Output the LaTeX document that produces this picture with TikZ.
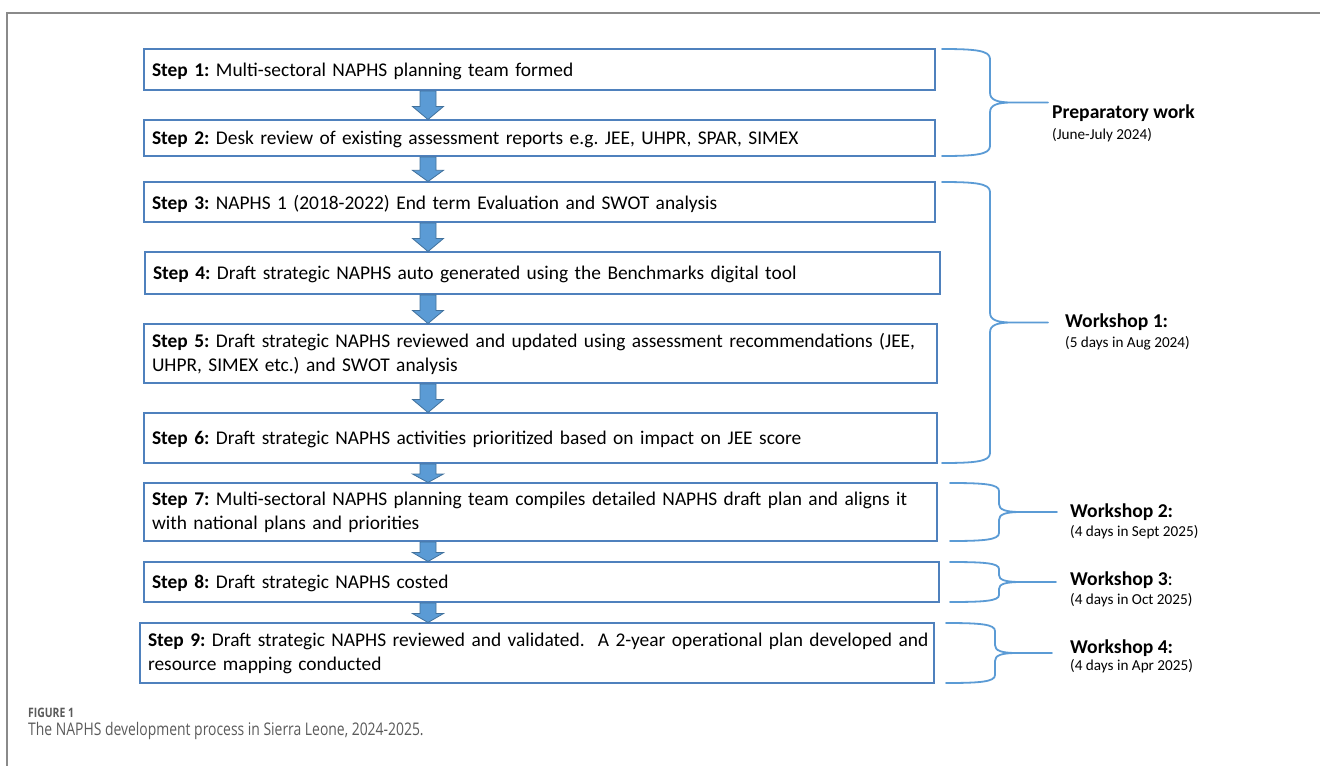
\documentclass[tikz,border=0pt]{standalone}
\usepackage{fontspec}
\setmainfont{Carlito}
\newfontfamily\capfont[FakeStretch=0.8]{Open Sans}
\usetikzlibrary{calc}
\frenchspacing

\definecolor{boxline}{HTML}{4F81BD}
\definecolor{arrowfill}{HTML}{5B9BD5}
\definecolor{arrowline}{HTML}{41719C}
\definecolor{bracecol}{HTML}{5B9BD5}
\definecolor{framegray}{HTML}{8A8A8A}
\definecolor{capgray}{HTML}{5A5A5A}

% block arrow pointing down between two step boxes, on the column x of (ax)
\newcommand\flowarrow[2]{%
  \path[flowarrow] let \p1=(#1.south -| ax), \p2=(#2.north -| ax),
      \n1={0.45*(\y1-\y2)} in
    (\x1-8pt,\y1-1pt) -- (\x1+8pt,\y1-1pt) -- (\x1+8pt,\y2+\n1)
    -- (\x1+15.5pt,\y2+\n1) -- (\x1,\y2+0.5pt) -- (\x1-15.5pt,\y2+\n1)
    -- (\x1-8pt,\y2+\n1) -- cycle;}

% right curly bracket grouping the boxes #1..#2
% #3 x of the ends, #4 x of the spine, #5 x of the tip, #6 bend size
\newcommand\groupbrace[6]{%
  \draw[bracestyle] let \p1=(#1.north east), \p2=(#2.south east),
      \n1={0.5*(\y1+\y2)} in
    (#3pt,\y1) .. controls ({#4pt-0.3*(#4pt-#3pt)},\y1) and (#4pt,\y1-0.15*#6pt) .. (#4pt,\y1-#6pt)
    -- (#4pt,\n1+#6pt) .. controls (#4pt,\n1+0.3*#6pt) and (#4pt+6pt,\n1) .. (#4pt+22pt,\n1)
    -- (#5pt,\n1)
    (#4pt+22pt,\n1) .. controls (#4pt+6pt,\n1) and (#4pt,\n1-0.3*#6pt) .. (#4pt,\n1-#6pt)
    -- (#4pt,\y2+#6pt) .. controls (#4pt,\y2+0.15*#6pt) and ({#4pt-0.3*(#4pt-#3pt)},\y2) .. (#3pt,\y2);}

\begin{document}
\begin{tikzpicture}[x=1pt,y=-1pt,
  stepbox/.style={draw=boxline, line width=1.2pt, outer sep=0pt, anchor=north west,
    align=left, inner xsep=8pt, inner ysep=0pt,
    font=\fontsize{19.4}{24}\selectfont},
  oneline/.style={stepbox, text depth=0pt},
  flowarrow/.style={fill=arrowfill, draw=arrowline, line width=0.8pt, line join=miter},
  bracestyle/.style={draw=bracecol, line width=1.8pt, line cap=round},
  grouplabel/.style={anchor=base west, inner sep=0pt, font=\bfseries\fontsize{19.6}{22}\selectfont},
  groupdate/.style={anchor=base west, inner sep=0pt, font=\fontsize{15.2}{17}\selectfont},
]
\useasboundingbox (0,0) rectangle (1320,766);

% page frame
\draw[framegray, line width=1.2pt] (1320,13) -- (7,13) -- (7,766);

\coordinate (ax) at (428,0);

% steps
\node[oneline, text width=775pt, minimum height=41pt] (s1) at (144,49)
  {\textbf{Step 1:} Multi-sectoral NAPHS planning team formed};
\node[oneline, text width=775pt, minimum height=36pt] (s2) at (144,120)
  {\textbf{Step 2:} Desk review of existing assessment reports e.g. JEE, UHPR, SPAR, SIMEX};
\node[oneline, text width=775pt, minimum height=40pt] (s3) at (144,182)
  {\textbf{Step 3:} NAPHS 1 (2018-2022) End term Evaluation and SWOT analysis};
\node[oneline, text width=779pt, minimum height=42pt] (s4) at (145,252)
  {\textbf{Step 4:} Draft strategic NAPHS auto generated using the Benchmarks digital tool};
\node[stepbox, text width=777pt, minimum height=59pt] (s5) at (144,324)
  {\textbf{Step 5:} Draft strategic NAPHS reviewed and updated using assessment recommendations (JEE,\\
   UHPR, SIMEX etc.) and SWOT analysis};
\node[oneline, text width=777pt, minimum height=50pt] (s6) at (144,413)
  {\textbf{Step 6:} Draft strategic NAPHS activities prioritized based on impact on JEE score};
\node[stepbox, text width=777pt, minimum height=58pt] (s7) at (144,483)
  {\textbf{Step 7:} Multi-sectoral NAPHS planning team compiles detailed NAPHS draft plan and aligns it\\
   with national plans and priorities};
\node[oneline, text width=779pt, minimum height=40pt] (s8) at (144,562)
  {\textbf{Step 8:} Draft strategic NAPHS costed};
\node[stepbox, text width=778pt, minimum height=60pt] (s9) at (140,623)
  {\mbox{\textbf{Step 9:} Draft strategic NAPHS reviewed and validated.\hspace{0.35em} A 2-year operational plan developed and}\\
   resource mapping conducted};

% arrows between consecutive steps
\flowarrow{s1}{s2}
\flowarrow{s2}{s3}
\flowarrow{s3}{s4}
\flowarrow{s4}{s5}
\flowarrow{s5}{s6}
\flowarrow{s6}{s7}
\flowarrow{s7}{s8}
\flowarrow{s8}{s9}

% grouping brackets
\groupbrace{s1}{s2}{942}{990}{1048}{10}
\groupbrace{s3}{s6}{942}{990}{1048}{10}
\groupbrace{s7}{s7}{950}{999}{1057}{8}
\groupbrace{s8}{s8}{950}{999}{1056}{7}
\groupbrace{s9}{s9}{946}{995}{1052}{8}

% phase labels
\node[grouplabel] (p0) at (1052,118.5) {Preparatory work};
\node[groupdate]  (p0d) at (1052,139) {(June-July 2024)};
\node[grouplabel] (w1) at (1065,327) {Workshop 1:};
\node[groupdate]  (w1d) at (1065,347) {(5 days in Aug 2024)};
\node[grouplabel] (w2) at (1070,517) {Workshop 2:};
\node[groupdate]  (w2d) at (1070,536) {(4 days in Sept 2025)};
\node[grouplabel] (w3) at (1070,585) {Workshop 3\mdseries:};
\node[groupdate]  (w3d) at (1070,604) {(4 days in Oct 2025)};
\node[grouplabel] (w4) at (1070,653) {Workshop 4:};
\node[groupdate]  (w4d) at (1070,670) {(4 days in Apr 2025)};

% caption
\node[anchor=base west, inner sep=0pt, text=capgray, font=\capfont\bfseries\fontsize{13}{15}\selectfont]
  (fig) at (28,717) {FIGURE 1};
\node[anchor=base west, inner sep=0pt, text=capgray, font=\capfont\fontsize{17.4}{20}\selectfont]
  (cap) at (28,735) {The NAPHS development process in Sierra Leone, 2024-2025.};
\end{tikzpicture}
\end{document}
